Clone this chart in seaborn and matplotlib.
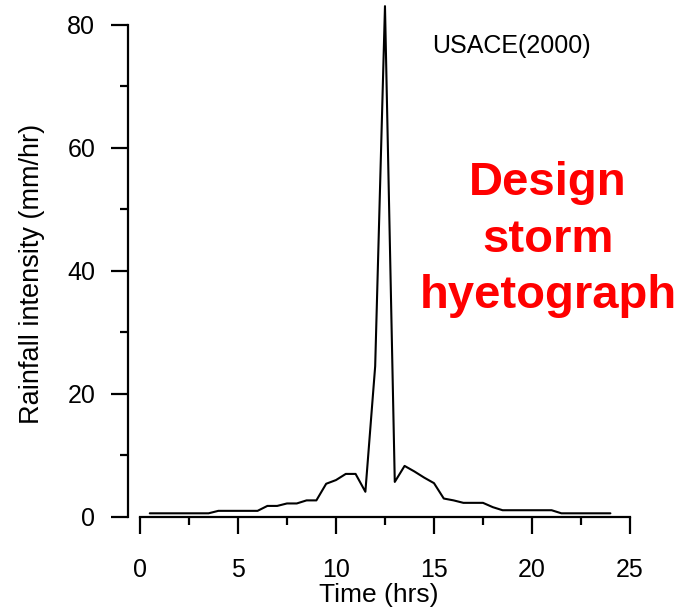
import matplotlib
matplotlib.use("Agg")
import matplotlib.pyplot as plt
import seaborn as sns
import pandas as pd
from matplotlib.ticker import MultipleLocator

# Data (0.5 hr steps)
time_hrs = [0.5, 1.0, 1.5, 2.0, 2.5, 3.0, 3.5, 4.0, 4.5, 5.0, 5.5, 6.0,
            6.5, 7.0, 7.5, 8.0, 8.5, 9.0, 9.5, 10.0, 10.5, 11.0, 11.5, 12.0,
            12.5, 13.0, 13.5, 14.0, 14.5, 15.0, 15.5, 16.0, 16.5, 17.0, 17.5, 18.0,
            18.5, 19.0, 19.5, 20.0, 20.5, 21.0, 21.5, 22.0, 22.5, 23.0, 23.5, 24.0]
intensity = [0.6, 0.6, 0.6, 0.6, 0.6, 0.6, 0.6, 1.0, 1.0, 1.0, 1.0, 1.0,
             1.8, 1.8, 2.2, 2.2, 2.7, 2.7, 5.4, 6.0, 7.0, 7.0, 4.1, 24.5,
             83.0, 5.7, 8.3, 7.4, 6.4, 5.5, 3.0, 2.7, 2.3, 2.3, 2.3, 1.6,
             1.1, 1.1, 1.1, 1.1, 1.1, 1.1, 0.6, 0.6, 0.6, 0.6, 0.6, 0.6]
x_ticks = [0, 5, 10, 15, 20, 25]
y_ticks = [0, 20, 40, 60, 80]
source_label = "USACE(2000)"
title_lines = ["Design", "storm", "hyetograph"]

sns.set_theme(style="ticks")
plt.rcParams['font.family'] = ['Liberation Sans', 'DejaVu Sans']

df = pd.DataFrame({"Time (hrs)": time_hrs, "Rainfall intensity (mm/hr)": intensity})

fig = plt.figure(figsize=(6.97, 6.13), dpi=100)
W, H = 697, 613
ax = fig.add_axes([128 / W, (H - 517) / H, (630 - 128) / W, 517 / H])

sns.lineplot(data=df, x="Time (hrs)", y="Rainfall intensity (mm/hr)", ax=ax,
             color="black", linewidth=1.5, clip_on=False)

ax.set_xlim(-0.61, 25)
ax.set_ylim(0, 84)
ax.set_xticks(x_ticks)
ax.set_yticks(y_ticks)
ax.xaxis.set_minor_locator(MultipleLocator(2.5))
ax.yaxis.set_minor_locator(MultipleLocator(10))

for s in ["top", "right"]:
    ax.spines[s].set_visible(False)
ax.spines["bottom"].set_bounds(0, 25)
ax.spines["left"].set_bounds(0, 80)
for s in ["bottom", "left"]:
    ax.spines[s].set_linewidth(1.6)
    ax.spines[s].set_color("black")

ax.tick_params(axis="both", which="major", length=12.5, width=1.6, colors="black",
               labelsize=18, direction="out")
ax.tick_params(axis="both", which="minor", length=5.5, width=1.6, colors="black",
               direction="out")
ax.tick_params(axis="x", which="major", pad=17)
ax.tick_params(axis="y", which="major", pad=11)

ax.set_xlabel("Time (hrs)", fontsize=19, labelpad=1, color="black")
ax.set_ylabel("Rainfall intensity (mm/hr)", fontsize=19.5, color="black")
ax.yaxis.set_label_coords(-0.165, 0.47)

ax.text(0.763, 0.911, source_label, transform=ax.transAxes, fontsize=18,
        ha="center", va="center", color="black")
ax.text(0.837, 0.536, "\n".join(title_lines), transform=ax.transAxes,
        fontsize=34, fontweight="bold", color="#ff0000", ha="center",
        va="center", linespacing=1.37)

fig.savefig("out.png", dpi=100)
